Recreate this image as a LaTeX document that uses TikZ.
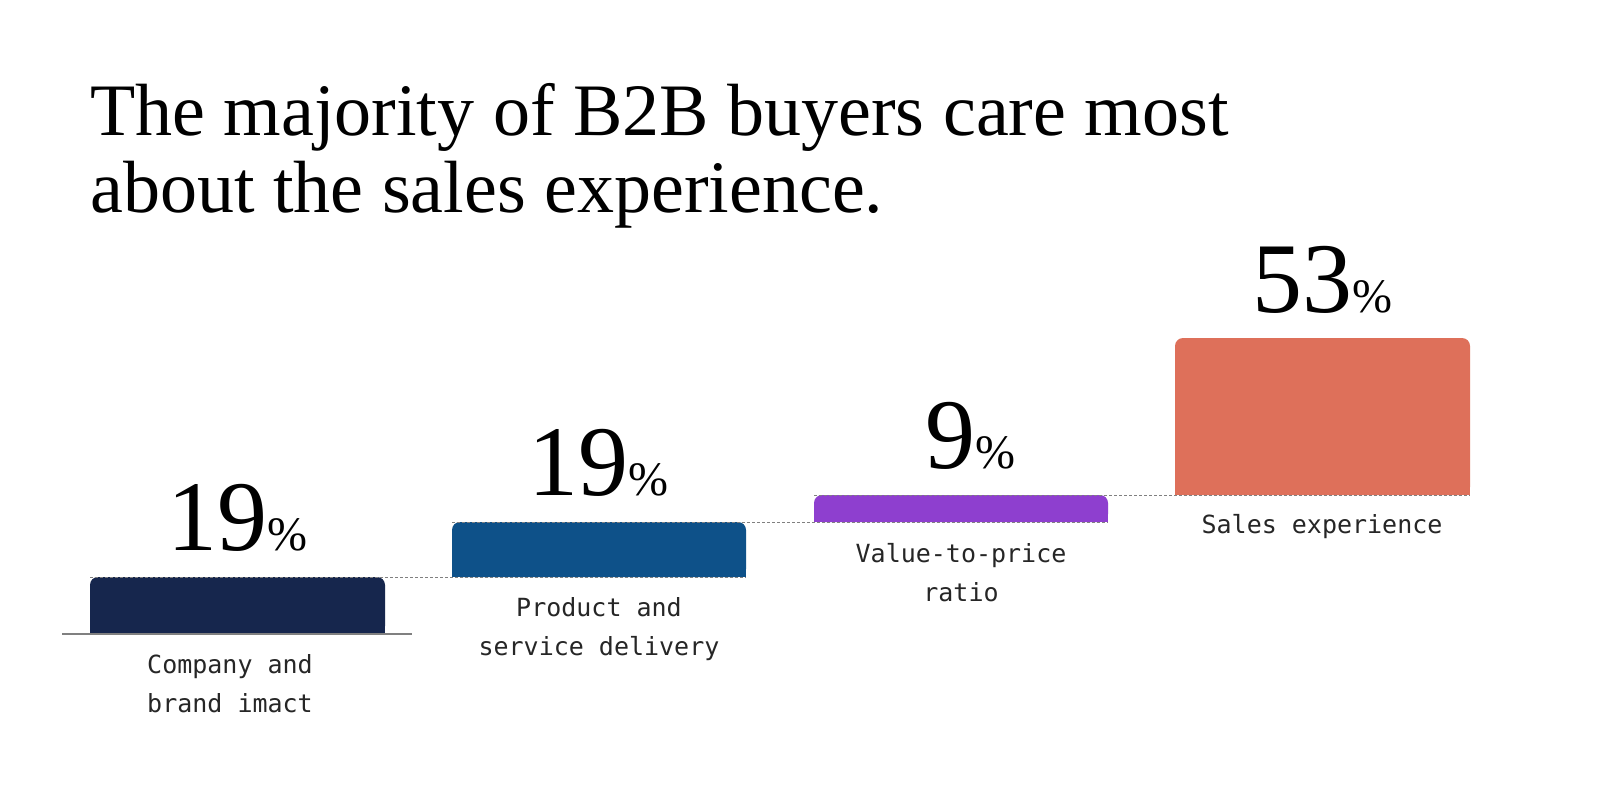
\documentclass[tikz,border=0pt]{standalone}
\usepackage{fontspec}
\setmainfont{Liberation Serif}
\newfontfamily\monof{DejaVu Sans Mono}
\definecolor{cA}{HTML}{16264D}
\definecolor{cB}{HTML}{0E5189}
\definecolor{cC}{HTML}{8E3FCF}
\definecolor{cD}{HTML}{DE705A}
\tikzset{
  num/.style={anchor=base,inner sep=0pt,font=\fontsize{100}{100}\selectfont},
  lab/.style={inner sep=0pt,font=\monof\fontsize{25}{39}\selectfont,text=black!85},
  guide/.style={densely dashed,gray,line width=1pt},
}
\newcommand{\pct}{{\fontsize{48}{48}\selectfont\%}}
\newcommand{\barr}[5]{%
  \fill[#5,rounded corners=8pt] (#1,#3) rectangle (#2,#4);
  \fill[#5] (#1,#4) rectangle (#2,#4-15);}
\begin{document}
\begin{tikzpicture}[x=1pt,y=-1pt]
\useasboundingbox[fill=white] (0,0) rectangle (1600,811);
\node[anchor=base west,inner sep=0pt,align=left,font=\fontsize{74}{77}\selectfont] (title) at (90,212)
  {The majority of B2B buyers care most\\about the sales experience.};
\barr{90}{385}{577}{634}{cA}
\barr{452}{746}{522}{577}{cB}
\barr{814}{1108}{495}{522}{cC}
\barr{1175}{1470}{338}{495}{cD}
\draw[gray,line width=1.2pt] (62,634) -- (412,634);
\draw[guide] (90,577) -- (746,577);
\draw[guide] (452,522) -- (1108,522);
\draw[guide] (814,495) -- (1470,495);
\node[num] (n1) at (237,550) {19\pct};
\node[num] (n2) at (598,495) {19\pct};
\node[num] (n3) at (970,468) {9\pct};
\node[num] (n4) at (1322,312) {53\pct};
\node[lab,anchor=north west,align=left] (l1) at (147,654) {Company and\\brand imact};
\node[lab,anchor=north,align=center] (l2) at (599,597) {Product and\\service delivery};
\node[lab,anchor=north,align=center] (l3) at (961,543) {Value-to-price\\ratio};
\node[lab,anchor=north,align=center] (l4) at (1322,514) {Sales experience};
\end{tikzpicture}
\end{document}
